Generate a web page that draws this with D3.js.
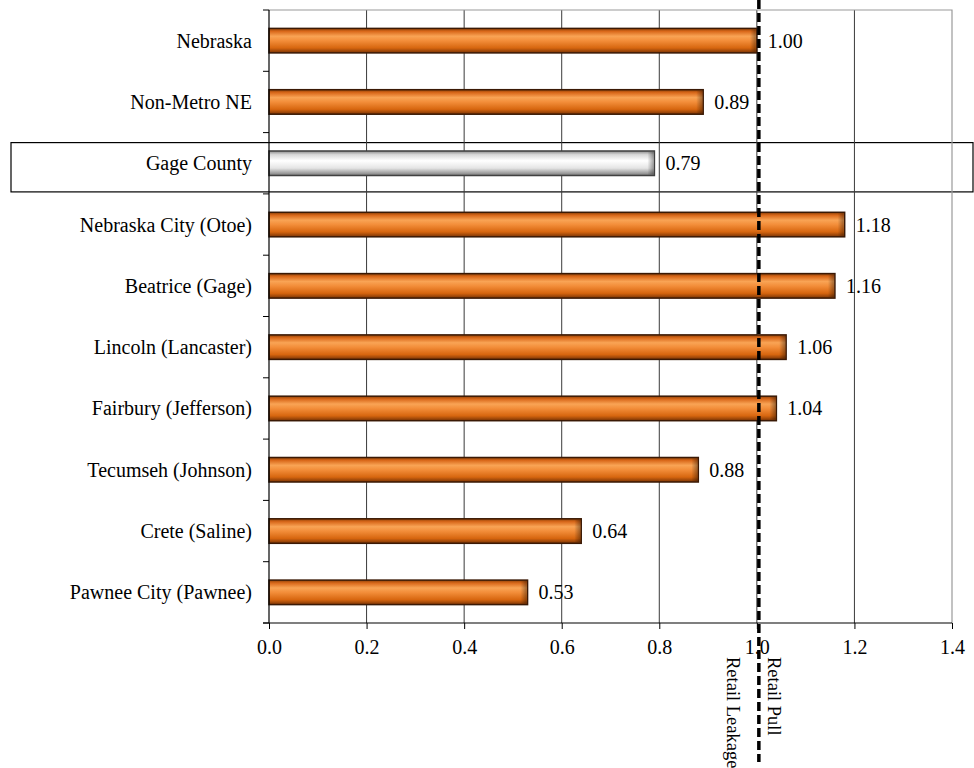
<!DOCTYPE html>
<html>
<head>
<meta charset="utf-8">
<script src="https://cdn.jsdelivr.net/npm/d3@7"></script>
<style>
  body { margin: 0; background: #fff; }
</style>
</head>
<body>
<svg id="chart" width="974" height="768"></svg>
<script>
// data, top to bottom
const places = ["Nebraska", "Non-Metro NE", "Gage County", "Nebraska City (Otoe)", "Beatrice (Gage)",
  "Lincoln (Lancaster)", "Fairbury (Jefferson)", "Tecumseh (Johnson)", "Crete (Saline)", "Pawnee City (Pawnee)"]
const pullFactor = [1.00, 0.89, 0.79, 1.18, 1.16, 1.06, 1.04, 0.88, 0.64, 0.53]
const highlighted = ["Gage County"]
const xTicks = [0, 0.2, 0.4, 0.6, 0.8, 1.0, 1.2, 1.4]
const breakEven = 1.0
const leftNote = "Retail Leakage"
const rightNote = "Retail Pull"

const FONT = '"Liberation Serif", "Times New Roman", Times, serif'
const svg = d3.select('#chart')
const margin = {top: 10, left: 269, right: 22, bottom: 145}
const W = 974, H = 768
const plotW = W - margin.left - margin.right
const plotH = H - margin.top - margin.bottom

const x = d3.scaleLinear().domain([0, 1.4]).range([margin.left, margin.left + plotW])
const y = d3.scaleBand().domain(places).range([margin.top, margin.top + plotH]).paddingInner(0.6).paddingOuter(0.3)
const yb = d3.scaleBand().domain(places).range([margin.top, margin.top + plotH])

const defs = svg.append('defs')
const grad = (id, stops) => {
    const g = defs.append('linearGradient').attr('id', id).attr('x1', 0).attr('x2', 0).attr('y1', 0).attr('y2', 1)
    stops.forEach(s => g.append('stop').attr('offset', s[0]).attr('stop-color', s[1]))
}
grad('orange', [[0, '#8f4208'], [0.12, '#d9681a'], [0.32, '#f9a455'], [0.5, '#f38e3a'], [0.8, '#d7660f'], [1, '#7a3405']])
grad('grey', [[0, '#8a8a8a'], [0.15, '#d8d8d8'], [0.4, '#ffffff'], [0.7, '#e4e4e4'], [1, '#7a7a7a']])
const endShade = defs.append('linearGradient').attr('id', 'endShade')
endShade.append('stop').attr('offset', 0).attr('stop-color', '#000').attr('stop-opacity', 0)
endShade.append('stop').attr('offset', 1).attr('stop-color', '#000').attr('stop-opacity', 0.35)

// highlight box behind Gage County
highlighted.forEach(name => {
    svg.append('rect')
        .attr('x', 11).attr('y', yb(name) + 10)
        .attr('width', 962).attr('height', yb.bandwidth() - 12)
        .attr('fill', '#fff').attr('stroke', '#000').attr('stroke-width', 1.2)
})

// gridlines
svg.append('g').selectAll('line')
    .data(xTicks.filter(d => d > 0 && d < 1.4))
    .join('line')
    .attr('x1', d => x(d)).attr('x2', d => x(d))
    .attr('y1', margin.top).attr('y2', margin.top + plotH)
    .attr('stroke', '#3a3a3a').attr('stroke-width', 1)

// top and right border
svg.append('path')
    .attr('d', `M${x(0)},${margin.top}H${x(1.4)}V${margin.top + plotH}`)
    .attr('fill', 'none').attr('stroke', '#9a9a9a').attr('stroke-width', 1.2)

// bars
const bars = svg.append('g').selectAll('g').data(places).join('g')
bars.append('rect')
    .attr('x', x(0)).attr('y', d => y(d))
    .attr('width', (d, i) => x(pullFactor[i]) - x(0))
    .attr('height', y.bandwidth())
    .attr('fill', d => highlighted.includes(d) ? 'url(#grey)' : 'url(#orange)')
    .attr('stroke', d => highlighted.includes(d) ? '#404040' : '#3a1905')
    .attr('stroke-width', 1.5)
bars.append('rect')
    .attr('x', (d, i) => x(pullFactor[i]) - 7).attr('y', d => y(d) + 1)
    .attr('width', 6).attr('height', y.bandwidth() - 2)
    .attr('fill', 'url(#endShade)')
bars.append('text')
    .attr('x', (d, i) => x(pullFactor[i]) + 11)
    .attr('y', d => y(d) + y.bandwidth() / 2)
    .attr('dy', '0.35em')
    .attr('font-family', FONT)
    .attr('font-size', 20)
    .attr('fill', '#000')
    .text((d, i) => pullFactor[i].toFixed(2))

// y axis
const yAxis = svg.append('g')
yAxis.append('line').attr('x1', x(0)).attr('x2', x(0)).attr('y1', margin.top).attr('y2', margin.top + plotH)
    .attr('stroke', '#000').attr('stroke-width', 1.2)
yAxis.selectAll('.tk').data(places.concat(['end'])).join('line')
    .attr('x1', x(0) - 6).attr('x2', x(0))
    .attr('y1', (d, i) => i < places.length ? yb(d) : margin.top + plotH)
    .attr('y2', (d, i) => i < places.length ? yb(d) : margin.top + plotH)
    .attr('stroke', '#000')
yAxis.selectAll('text').data(places).join('text')
    .attr('x', x(0) - 17)
    .attr('y', d => y(d) + y.bandwidth() / 2)
    .attr('dy', '0.35em')
    .attr('text-anchor', 'end')
    .attr('font-family', FONT)
    .attr('font-size', 20)
    .attr('fill', '#000')
    .text(d => d)

// x axis
const xAxis = d3.axisBottom(x).tickValues(xTicks).tickFormat(d3.format('.1f')).tickSize(6).tickSizeOuter(0)
const xg = svg.append('g').attr('transform', `translate(0,${margin.top + plotH})`).call(xAxis)
xg.select('.domain').attr('d', `M${x(0) - 6},0H${x(1.4)}`).attr('stroke', '#000').attr('stroke-width', 1.2)
xg.selectAll('.tick line').attr('stroke', '#000')
xg.attr('font-family', FONT).attr('font-size', 20)
xg.selectAll('.tick text').attr('y', 17).attr('fill', '#000')

// break-even dashed line + notes
svg.append('line')
    .attr('x1', x(breakEven) + 2).attr('x2', x(breakEven) + 2)
    .attr('y1', 0).attr('y2', 762)
    .attr('stroke', '#000').attr('stroke-width', 3.5)
    .attr('stroke-dasharray', '9,4')
svg.append('text')
    .attr('transform', `translate(${x(breakEven) + 11},657) rotate(90)`)
    .attr('font-family', FONT).attr('font-size', 18.5)
    .text(rightNote)
svg.append('text')
    .attr('transform', `translate(${x(breakEven) - 30},657) rotate(90)`)
    .attr('font-family', FONT).attr('font-size', 18.5)
    .text(leftNote)
</script>
</body>
</html>
